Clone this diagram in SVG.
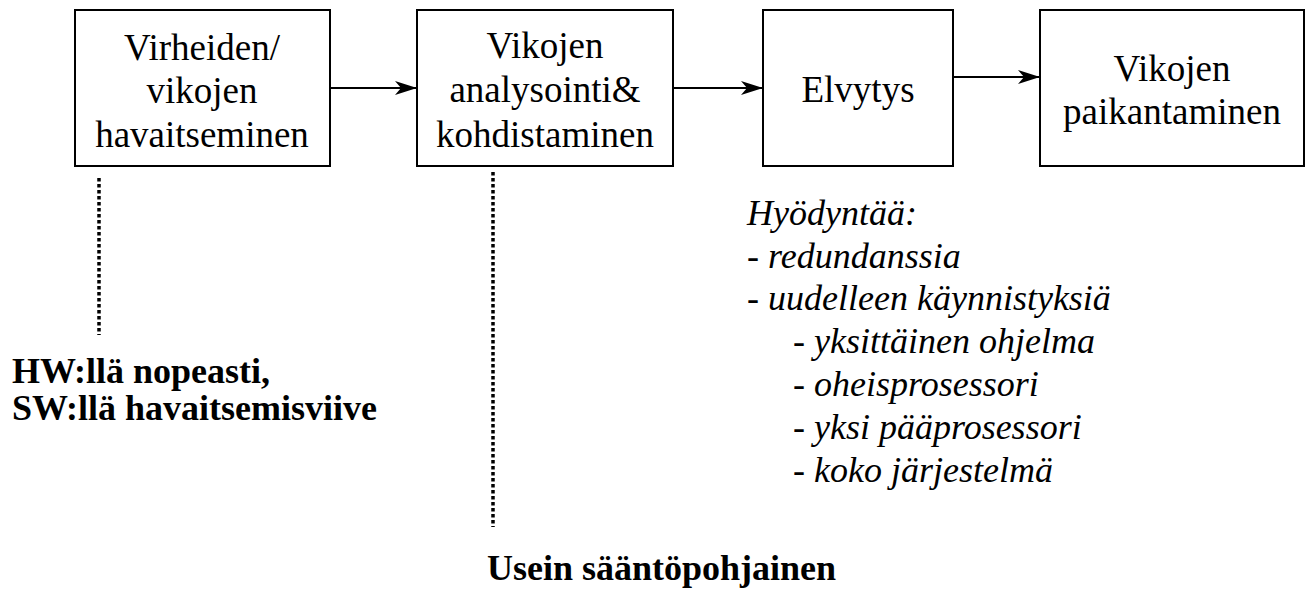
<svg xmlns="http://www.w3.org/2000/svg" width="1306" height="594" viewBox="0 0 1306 594">
<style>
.box{fill:#fff;stroke:#000;stroke-width:2}
.t{font-family:"Liberation Serif","Times New Roman",serif;font-size:37px;fill:#000;text-anchor:middle}
.b{font-family:"Liberation Serif","Times New Roman",serif;font-size:36px;font-weight:bold;fill:#000}
.i{font-family:"Liberation Serif","Times New Roman",serif;font-size:36px;font-style:italic;fill:#000}
.c{stroke:#000;stroke-width:2;fill:none}
.d{stroke:#000;stroke-width:3.5;stroke-dasharray:3.5 2.5;fill:none}
</style>
<defs>
<marker id="ah" viewBox="0 0 22 14" refX="22" refY="7" markerWidth="22" markerHeight="14" markerUnits="userSpaceOnUse" orient="auto">
<path d="M0,0 L22,7 L0,14 L6,7 Z" fill="#000"/>
</marker>
</defs>
<rect width="1306" height="594" fill="#fff"/>
<g id="connectors">
<line class="c" x1="330" y1="88" x2="417" y2="88" marker-end="url(#ah)"/>
<line class="c" x1="673" y1="88" x2="763" y2="88" marker-end="url(#ah)"/>
<line class="c" x1="953" y1="77" x2="1040" y2="77" marker-end="url(#ah)"/>
<line class="d" x1="99" y1="178" x2="99" y2="335"/>
<line class="d" x1="493" y1="172" x2="493" y2="527"/>
</g>
<g id="n1">
<rect class="box" x="75" y="10" width="255" height="156"/>
<text class="t" x="202" y="60">Virheiden/</text>
<text class="t" x="202" y="103">vikojen</text>
<text class="t" x="202" y="147">havaitseminen</text>
</g>
<g id="n2">
<rect class="box" x="417" y="10" width="256" height="156"/>
<text class="t" x="545" y="58">Vikojen</text>
<text class="t" x="545" y="102">analysointi&amp;</text>
<text class="t" x="545" y="147">kohdistaminen</text>
</g>
<g id="n3">
<rect class="box" x="763" y="10" width="190" height="156"/>
<text class="t" x="858" y="102">Elvytys</text>
</g>
<g id="n4">
<rect class="box" x="1040" y="10" width="264" height="156"/>
<text class="t" x="1172" y="81">Vikojen</text>
<text class="t" x="1172" y="124">paikantaminen</text>
</g>
<g id="note-hw">
<text class="b" x="12" y="383">HW:llä nopeasti,</text>
<text class="b" x="12" y="420">SW:llä havaitsemisviive</text>
</g>
<g id="note-rule">
<text class="b" x="487" y="580">Usein sääntöpohjainen</text>
</g>
<g id="note-list">
<text class="i" x="747" y="225">Hyödyntää:</text>
<text class="i" x="747" y="268">- redundanssia</text>
<text class="i" x="747" y="310">- uudelleen käynnistyksiä</text>
<text class="i" x="793" y="353">- yksittäinen ohjelma</text>
<text class="i" x="793" y="396">- oheisprosessori</text>
<text class="i" x="793" y="439">- yksi pääprosessori</text>
<text class="i" x="793" y="482">- koko järjestelmä</text>
</g>
</svg>
